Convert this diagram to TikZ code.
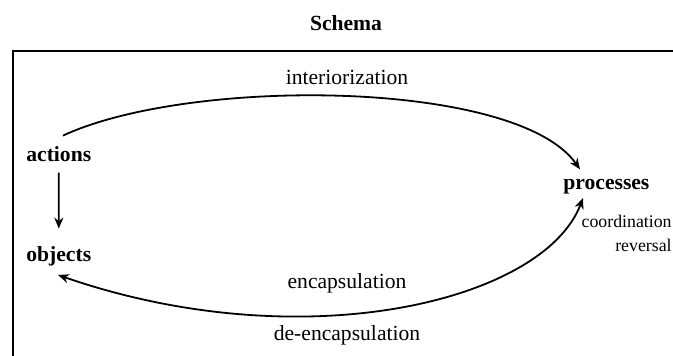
\documentclass[tikz,border=0pt]{standalone}
\usepackage{fontspec}
\setmainfont{Liberation Serif}
\usetikzlibrary{arrows.meta}

\begin{document}
\begin{tikzpicture}[x=0.5pt, y=-0.5pt,
    stage/.style={font=\fontsize{10.8}{13}\selectfont\bfseries, inner sep=0pt, anchor=base west},
    verb/.style={font=\fontsize{10.8}{13}\selectfont, inner sep=0pt, anchor=base},
    note/.style={font=\fontsize{8.9}{11}\selectfont, inner sep=0pt, anchor=base east},
    pfeil/.style={-{Stealth[length=5.5pt,width=4.5pt]}, line width=0.9pt},
    doppelpfeil/.style={{Stealth[length=5.5pt,width=4.5pt]}-{Stealth[length=5.5pt,width=4.5pt]}, line width=0.9pt}]

    \useasboundingbox (0,0) rectangle (673,356);
    \clip (0,0) rectangle (673,356);

    %Titel
    \node[stage, anchor=base] (title) at (346,31) {Schema};

    %Rahmen
    \draw[line width=0.85pt] (13,400) -- (13,51) -- (700,51);

    %Stufen
    \node[stage] (actions)   at (26,162)  {actions};
    \node[stage] (objects)   at (26,262)  {objects};
    \node[stage] (processes) at (563,190) {processes};

    %Uebergaenge
    \node[verb] (inter)   at (347,85)  {interiorization};
    \node[verb] (encap)   at (347,289) {encapsulation};
    \node[verb] (deencap) at (347,341) {de-encapsulation};
    \node[note] (coord)   at (672,228) {coordination};
    \node[note] (rev)     at (672,252) {reversal};

    %Pfeile
    \draw[pfeil] ([yshift=-5pt]actions.south) -- ([yshift=9pt]objects.north);
    \draw[pfeil] ([xshift=18.5pt,yshift=5.5pt]actions.north west) .. controls +(127,-59) and +(-63,-90) .. ([xshift=8.5pt,yshift=5pt]processes.north west);
    \draw[doppelpfeil] ([xshift=10pt,yshift=-1.5pt]processes.south west) .. controls +(-39,103) and +(246,85) .. ([xshift=16pt,yshift=-4pt]objects.south west);

\end{tikzpicture}
\end{document}
